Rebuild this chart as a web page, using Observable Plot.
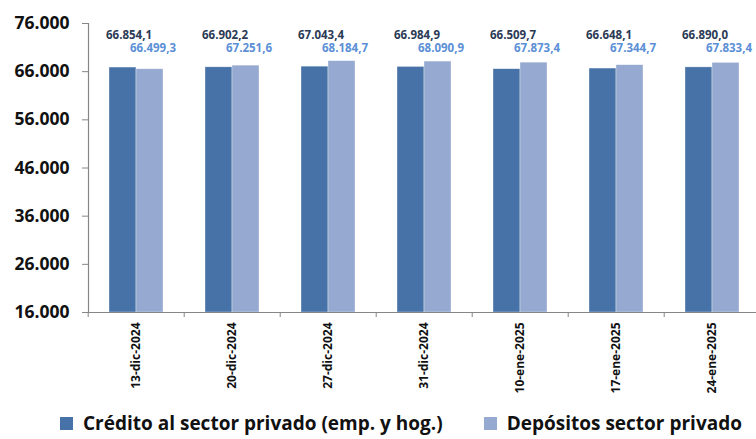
<!DOCTYPE html>
<html>
<head>
<meta charset="utf-8">
<script src="https://cdn.jsdelivr.net/npm/d3@7"></script>
<script src="https://cdn.jsdelivr.net/npm/@observablehq/plot@0.6"></script>
<style>
  html, body { margin: 0; padding: 0; background: #fff; overflow: hidden; }
  #chart { width: 762px; }
  .legend { display: flex; align-items: center; height: 28px; padding-left: 60px; margin-top: 1px;
    font-family: "Open Sans", sans-serif; font-weight: 700; font-size: 19px; line-height: 24px; color: #111; white-space: nowrap; }
  .legend .item { display: flex; align-items: center; margin-right: 41px; }
  .legend .sw { width: 13px; height: 13px; margin-right: 10px; display: inline-block; }
</style>
</head>
<body>
<div id="chart"></div>
<script>
const fechas = ["13-dic-2024", "20-dic-2024", "27-dic-2024", "31-dic-2024", "10-ene-2025", "17-ene-2025", "24-ene-2025"];
const series = ["Crédito al sector privado (emp. y hog.)", "Depósitos sector privado"];
const credito = [66854.1, 66902.2, 67043.4, 66984.9, 66509.7, 66648.1, 66890.0];
const depositos = [66499.3, 67251.6, 68184.7, 68090.9, 67873.4, 67344.7, 67833.4];
const yTicks = [16000, 26000, 36000, 46000, 56000, 66000, 76000];
const colores = ["#4672a8", "#95a9d1"];
const colorTexto = ["#2b3a55", "#5b8fd6"];

const loc = d3.formatLocale({decimal: ",", thousands: ".", grouping: [3], currency: ["", ""]});
const fmt0 = loc.format(",.0f");
const fmt1 = loc.format(",.1f");

const rows = [];
fechas.forEach((f, i) => {
  rows.push({fecha: f, serie: series[0], valor: credito[i]});
  rows.push({fecha: f, serie: series[1], valor: depositos[i]});
});

const W = 762, ML = 86, MR = 0, H = 408, MT = 23, MB = 96;
const step = (W - ML - MR) / fechas.length;
const grey = "#868686";
const font = "'Open Sans', sans-serif";

const chart = Plot.plot({
  width: W, height: H,
  marginLeft: ML, marginRight: MR, marginTop: MT, marginBottom: MB,
  style: {fontFamily: font, background: "#fff"},
  fx: {domain: fechas, padding: 0, label: null, axis: null},
  x: {domain: series, paddingInner: 0, paddingOuter: 0.755, axis: null},
  y: {domain: [yTicks[0], yTicks[yTicks.length - 1]], label: null},
  color: {domain: series, range: colores},
  marks: [
    Plot.barY(rows, {fx: "fecha", x: "serie", y1: yTicks[0], y2: "valor", fill: "serie", stroke: "#fff", strokeOpacity: 0.6, strokeWidth: 0.6}),
    Plot.ruleY([yTicks[0]], {stroke: grey, strokeWidth: 1.2}),
    Plot.frame({anchor: "left", facetAnchor: "left", stroke: grey, strokeWidth: 1.2}),
    Plot.axisY({ticks: yTicks, tickFormat: fmt0, tickSize: 6, tickPadding: 13, stroke: grey, fill: "#111",
      fontSize: 17.5, fontWeight: 700, label: null}),
    Plot.axisFx({anchor: "bottom", tickSize: 0, tickPadding: 10, tickRotate: -90, fontSize: 12, fontWeight: 700, fill: "#111", label: null}),
    Plot.axisFx({anchor: "bottom", tickSize: 5, tickFormat: () => "", stroke: grey, dx: -step / 2, label: null}),
    Plot.text(rows.filter(d => d.serie === series[0]), {fx: "fecha", x: "serie", text: d => fmt1(d.valor),
      frameAnchor: "top", dy: 7, dx: 6, fill: colorTexto[0], fontSize: 11.5, fontWeight: 700}),
    Plot.text(rows.filter(d => d.serie === series[1]), {fx: "fecha", x: "serie", text: d => fmt1(d.valor),
      frameAnchor: "top", dy: 20, dx: 3, fill: colorTexto[1], fontSize: 11.5, fontWeight: 700})
  ]
});

const root = document.getElementById("chart");
root.appendChild(chart);
const legend = document.createElement("div");
legend.className = "legend";
series.forEach((s, i) => {
  const it = document.createElement("div");
  it.className = "item";
  const sw = document.createElement("span");
  sw.className = "sw";
  sw.style.background = colores[i];
  const t = document.createElement("span");
  t.textContent = s;
  it.appendChild(sw); it.appendChild(t);
  legend.appendChild(it);
});
root.appendChild(legend);
</script>
</body>
</html>
